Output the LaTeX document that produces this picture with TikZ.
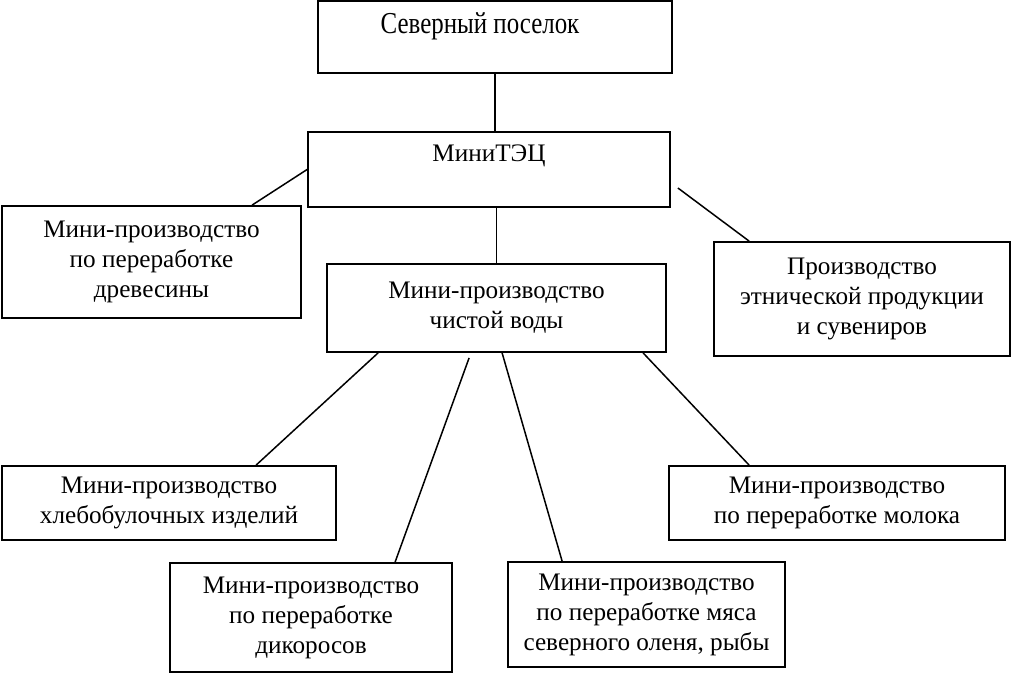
\documentclass[tikz,border=0pt]{standalone}
\usepackage{fontspec}
\setmainfont{Liberation Serif}
\usetikzlibrary{positioning,calc}
\tikzset{
  box/.style={draw=black,line width=0.9pt,inner sep=2pt,align=center,font=\fontsize{12.6}{15}\selectfont},
  link/.style={draw=black,line width=0.75pt}}
\begin{document}
\begin{tikzpicture}[x=0.5pt,y=-0.5pt]
  \useasboundingbox (0,0) rectangle (1012,674);
  \node[box,minimum width=177pt,minimum height=36pt,text depth=13.5pt] (vil) at (495,37) {\scalebox{0.82}[1]{\fontsize{15.2}{18}\selectfont Северный поселок}\hspace*{15pt}};
  \node[box,minimum width=181pt,minimum height=37.5pt,text depth=16pt] (tec) at (489,169.5) {МиниТЭЦ};
  \node[box,minimum width=149.5pt,minimum height=56pt] (wood) at (151.5,262) {Мини-производство\\по переработке\\древесины};
  \node[box,minimum width=169.5pt,minimum height=44pt] (water) at (496.5,308) {Мини-производство\\чистой воды};
  \node[box,minimum width=148pt,minimum height=57pt] (ethno) at (862,299) {Производство\\этнической продукции\\и сувениров};
  \node[box,minimum width=167pt,minimum height=37pt] (bread) at (169,503) {Мини-производство\\хлебобулочных изделий};
  \node[box,minimum width=168pt,minimum height=37pt] (milk) at (837,503) {Мини-производство\\по переработке молока};
  \node[box,minimum width=141pt,minimum height=54.5pt] (wild) at (311,617.5) {Мини-производство\\по переработке\\дикоросов};
  \node[box,minimum width=138.5pt,minimum height=52.5pt] (meat) at (646.5,614.5) {Мини-производство\\по переработке мяса\\северного оленя, рыбы};
  % links
  \draw[link] (vil.south) -- (vil.south |- tec.north);
  \draw[link] (tec.south -| water.north) -- (water.north);
  \draw[link] (tec.west) -- ($(wood.north west)+(251,0)$);
  \draw[link] ($(tec.east)+(7,18.5)$) -- ($(ethno.north west)+(36,0)$);
  \draw[link] ($(water.south west)+(52,0)$) -- ($(bread.north west)+(255,0)$);
  \draw[link] ($(water.south west)+(143,5)$) -- ($(wild.north west)+(226,0)$);
  \draw[link] ($(water.south west)+(176,0)$) -- ($(meat.north west)+(55,0)$);
  \draw[link] ($(water.south west)+(317,0)$) -- ($(milk.north west)+(81,0)$);
\end{tikzpicture}
\end{document}
